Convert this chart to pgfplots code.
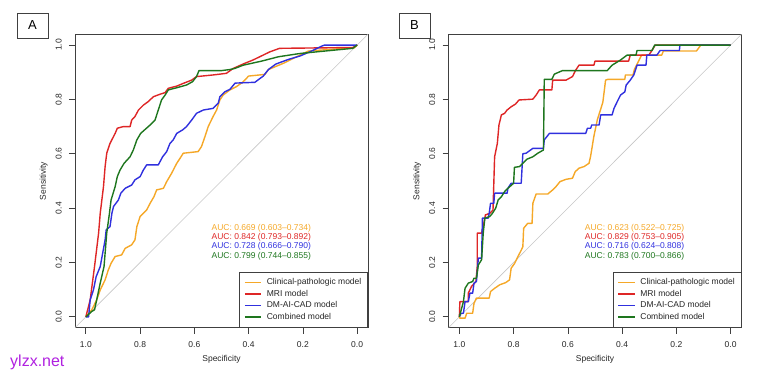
\documentclass[border=0pt]{standalone}
\usepackage{fontspec}
\setmainfont{Liberation Sans}
\usepackage{pgfplots}
\pgfplotsset{compat=1.18}
\definecolor{corange}{RGB}{245,168,40}
\definecolor{cred}{RGB}{222,38,38}
\definecolor{cblue}{RGB}{48,48,222}
\definecolor{cgreen}{RGB}{30,118,30}
\definecolor{wm}{RGB}{176,32,224}
\newcommand{\fs}{\fontsize{8.5}{10}\selectfont}
\pgfplotsset{rocstyle/.style={
  scale only axis, width=293pt, height=293.5pt,
  x dir=reverse, xmin=-0.04, xmax=1.04, ymin=-0.04, ymax=1.04,
  axis line style={black!75, line width=0.8pt},
  xtick={0,0.2,0.4,0.6,0.8,1}, xticklabels={0.0,0.2,0.4,0.6,0.8,1.0},
  ytick={0,0.2,0.4,0.6,0.8,1}, yticklabels={0.0,0.2,0.4,0.6,0.8,1.0},
  tick align=outside, major tick length=6pt,
  tick style={black!75, line width=0.7pt},
  xtick pos=bottom, ytick pos=left,
  ticklabel style={font=\fs, text=black!85, inner sep=0pt},
  yticklabel style={rotate=90, anchor=south},
  xticklabel style={anchor=north},
  xticklabel shift=8pt, yticklabel shift=7pt,
  xlabel={Specificity}, ylabel={Sensitivity},
  label style={font=\fs, text=black!85},
  xlabel style={at={(axis description cs:0.5,-0.107)}, anchor=center},
  ylabel style={at={(axis description cs:-0.107,0.5)}, anchor=center},
  legend style={at={(axis description cs:1,0)}, anchor=south east,
    draw=black!75, line width=0.8pt, fill=white, font=\fs, text=black!85,
    inner xsep=4.5pt, inner ysep=4.5pt, column sep=3pt, row sep=0pt,
    nodes={inner sep=1.75pt, text height=6pt, text depth=2pt}},
  legend cell align=left,
  legend image code/.code={\draw[#1, line width=1.4pt] (0pt,0pt) -- (16.6pt,0pt);},
  every axis plot/.append style={line width=1.4pt, line join=round},
}}
\begin{document}
\begin{tikzpicture}
\useasboundingbox (0,0) rectangle (770pt,378pt);
% Panel A
\begin{axis}[rocstyle, at={(75pt,50.3pt)}, anchor=south west]
\addplot[gray!45, line width=0.6pt, forget plot] coordinates {(1.04,-0.04) (-0.04,1.04)};
\addplot[corange] coordinates {(1,0) (0.978,0.026) (0.960,0.0625) (0.947,0.099) (0.929,0.136) (0.917,0.173) (0.907,0.197) (0.892,0.222) (0.868,0.228) (0.855,0.252) (0.831,0.265) (0.819,0.283) (0.812,0.332) (0.800,0.369) (0.776,0.393) (0.763,0.418) (0.749,0.442) (0.739,0.467) (0.714,0.473) (0.702,0.4975) (0.684,0.528) (0.665,0.565) (0.653,0.583) (0.641,0.602) (0.586,0.608) (0.574,0.626) (0.561,0.663) (0.549,0.700) (0.531,0.737) (0.518,0.761) (0.506,0.798) (0.494,0.816) (0.469,0.835) (0.445,0.847) (0.420,0.865) (0.400,0.886) (0.340,0.892) (0.327,0.910) (0.267,0.935) (0.217,0.960) (0.180,0.978) (0.088,0.985) (0.010,0.990) (0,1)};
\addlegendentry{Clinical-pathologic model}
\addplot[cred] coordinates {(1,0) (0.984,0.0625) (0.968,0.185) (0.953,0.308) (0.947,0.381) (0.935,0.479) (0.929,0.553) (0.923,0.602) (0.911,0.638) (0.892,0.675) (0.884,0.694) (0.862,0.700) (0.837,0.700) (0.831,0.724) (0.819,0.737) (0.806,0.761) (0.788,0.779) (0.770,0.792) (0.751,0.810) (0.727,0.819) (0.708,0.825) (0.696,0.841) (0.665,0.849) (0.641,0.859) (0.610,0.871) (0.592,0.884) (0.531,0.890) (0.482,0.896) (0.457,0.914) (0.414,0.933) (0.384,0.945) (0.359,0.957) (0.322,0.975) (0.286,0.988) (0.016,0.991) (0,1)};
\addlegendentry{MRI model}
\addplot[cblue] coordinates {(1,0) (0.990,0) (0.984,0.0625) (0.972,0.099) (0.962,0.148) (0.947,0.185) (0.938,0.234) (0.929,0.283) (0.925,0.320) (0.911,0.332) (0.904,0.381) (0.898,0.406) (0.880,0.430) (0.871,0.455) (0.855,0.473) (0.831,0.485) (0.819,0.504) (0.800,0.516) (0.788,0.540) (0.776,0.559) (0.733,0.559) (0.717,0.589) (0.702,0.608) (0.690,0.638) (0.678,0.651) (0.665,0.675) (0.643,0.688) (0.629,0.700) (0.610,0.724) (0.592,0.749) (0.567,0.761) (0.531,0.767) (0.512,0.786) (0.506,0.810) (0.488,0.828) (0.469,0.837) (0.450,0.860) (0.377,0.863) (0.346,0.886) (0.327,0.910) (0.300,0.930) (0.254,0.947) (0.210,0.960) (0.168,0.978) (0.131,0.996) (0.120,1.0) (0,1)};
\addlegendentry{DM-AI-CAD model}
\addplot[cgreen] coordinates {(1,0) (0.978,0.020) (0.968,0.026) (0.960,0.0625) (0.947,0.124) (0.933,0.185) (0.923,0.308) (0.913,0.381) (0.907,0.430) (0.892,0.479) (0.884,0.516) (0.874,0.540) (0.859,0.565) (0.837,0.589) (0.825,0.614) (0.812,0.651) (0.798,0.675) (0.763,0.706) (0.745,0.724) (0.733,0.761) (0.721,0.798) (0.708,0.816) (0.696,0.835) (0.665,0.843) (0.629,0.853) (0.607,0.865) (0.592,0.884) (0.583,0.906) (0.500,0.906) (0.469,0.910) (0.451,0.914) (0.420,0.926) (0.352,0.941) (0.290,0.957) (0.211,0.969) (0.150,0.975) (0.016,0.988) (0,1)};
\addlegendentry{Combined model}
\node[anchor=west, inner sep=0pt, font=\fs, text=corange] at (axis cs:0.537,0.325) {AUC: 0.669 (0.603–0.734)};
\node[anchor=west, inner sep=0pt, font=\fs, text=cred] at (axis cs:0.537,0.2915) {AUC: 0.842 (0.793–0.892)};
\node[anchor=west, inner sep=0pt, font=\fs, text=cblue] at (axis cs:0.537,0.258) {AUC: 0.728 (0.666–0.790)};
\node[anchor=west, inner sep=0pt, font=\fs, text=cgreen] at (axis cs:0.537,0.224) {AUC: 0.799 (0.744–0.855)};
\end{axis}
% Panel B
\begin{axis}[rocstyle, at={(448.5pt,50.3pt)}, anchor=south west]
\addplot[gray!45, line width=0.6pt, forget plot] coordinates {(1.04,-0.04) (-0.04,1.04)};
\addplot[corange] coordinates {(1,0) (0.998,-0.005) (0.979,-0.005) (0.973,0.013) (0.951,0.013) (0.946,0.050) (0.937,0.069) (0.890,0.069) (0.885,0.093) (0.870,0.105) (0.851,0.118) (0.829,0.126) (0.815,0.136) (0.809,0.179) (0.796,0.197) (0.784,0.222) (0.772,0.245) (0.766,0.258) (0.763,0.326) (0.748,0.344) (0.732,0.344) (0.729,0.418) (0.717,0.452) (0.674,0.452) (0.656,0.467) (0.644,0.479) (0.629,0.4975) (0.607,0.506) (0.583,0.510) (0.573,0.534) (0.559,0.547) (0.540,0.553) (0.522,0.565) (0.516,0.592) (0.504,0.665) (0.491,0.727) (0.479,0.764) (0.471,0.790) (0.461,0.871) (0.453,0.874) (0.390,0.874) (0.388,0.890) (0.360,0.890) (0.355,0.910) (0.330,0.960) (0.327,0.963) (0.254,0.963) (0.248,0.978) (0.126,0.978) (0.110,1.0) (0,1)};
\addlegendentry{Clinical-pathologic model}
\addplot[cred] coordinates {(1,0) (0.998,0.056) (0.967,0.056) (0.967,0.087) (0.955,0.112) (0.939,0.130) (0.934,0.185) (0.934,0.308) (0.918,0.308) (0.912,0.332) (0.904,0.375) (0.888,0.381) (0.876,0.393) (0.870,0.589) (0.860,0.638) (0.854,0.706) (0.845,0.743) (0.833,0.749) (0.824,0.761) (0.809,0.773) (0.793,0.783) (0.780,0.798) (0.729,0.801) (0.717,0.816) (0.705,0.835) (0.659,0.835) (0.656,0.871) (0.607,0.871) (0.583,0.884) (0.571,0.908) (0.559,0.926) (0.504,0.926) (0.500,0.941) (0.376,0.941) (0.370,0.963) (0.302,0.963) (0.290,0.980) (0.278,1.0) (0,1)};
\addlegendentry{MRI model}
\addplot[cblue] coordinates {(1,0) (0.995,0.013) (0.985,0.013) (0.979,0.056) (0.967,0.056) (0.961,0.087) (0.951,0.087) (0.946,0.124) (0.937,0.130) (0.930,0.216) (0.918,0.216) (0.915,0.363) (0.894,0.363) (0.890,0.381) (0.885,0.418) (0.873,0.418) (0.870,0.455) (0.824,0.455) (0.821,0.473) (0.809,0.4915) (0.772,0.4915) (0.766,0.600) (0.754,0.602) (0.729,0.620) (0.690,0.620) (0.687,0.651) (0.668,0.675) (0.534,0.675) (0.528,0.694) (0.516,0.694) (0.512,0.706) (0.485,0.706) (0.479,0.743) (0.437,0.743) (0.430,0.767) (0.415,0.798) (0.406,0.816) (0.390,0.828) (0.385,0.853) (0.370,0.871) (0.357,0.890) (0.345,0.926) (0.312,0.926) (0.309,0.963) (0.272,0.963) (0.260,0.980) (0.189,0.980) (0.187,1.0) (0,1)};
\addlegendentry{DM-AI-CAD model}
\addplot[cgreen] coordinates {(1,0) (0.985,0.056) (0.979,0.105) (0.967,0.124) (0.951,0.130) (0.946,0.142) (0.937,0.142) (0.930,0.191) (0.918,0.210) (0.912,0.308) (0.906,0.363) (0.888,0.369) (0.878,0.381) (0.866,0.400) (0.857,0.430) (0.845,0.442) (0.833,0.461) (0.821,0.473) (0.800,0.4915) (0.797,0.550) (0.778,0.553) (0.766,0.565) (0.751,0.580) (0.729,0.589) (0.711,0.602) (0.690,0.614) (0.687,0.874) (0.659,0.874) (0.650,0.893) (0.620,0.906) (0.455,0.906) (0.437,0.926) (0.406,0.945) (0.382,0.963) (0.349,0.963) (0.345,0.980) (0.290,0.980) (0.280,1.0) (0,1)};
\addlegendentry{Combined model}
\node[anchor=west, inner sep=0pt, font=\fs, text=corange] at (axis cs:0.538,0.325) {AUC: 0.623 (0.522–0.725)};
\node[anchor=west, inner sep=0pt, font=\fs, text=cred] at (axis cs:0.538,0.2915) {AUC: 0.829 (0.753–0.905)};
\node[anchor=west, inner sep=0pt, font=\fs, text=cblue] at (axis cs:0.538,0.258) {AUC: 0.716 (0.624–0.808)};
\node[anchor=west, inner sep=0pt, font=\fs, text=cgreen] at (axis cs:0.538,0.224) {AUC: 0.783 (0.700–0.866)};
\end{axis}
% Panel letters
\draw[black!75, line width=0.8pt] (17pt,340pt) rectangle (48pt,365pt);
\node[font=\fontsize{13}{15}\selectfont] at (32.5pt,352.5pt) {A};
\draw[black!75, line width=0.8pt] (399pt,340pt) rectangle (430pt,365pt);
\node[font=\fontsize{13}{15}\selectfont] at (414.5pt,352.5pt) {B};
% watermark
\node[anchor=base west, inner sep=0pt, text=wm, font=\fontsize{16}{18}\selectfont] at (10pt,11.3pt) {ylzx.net};
\end{tikzpicture}
\end{document}
